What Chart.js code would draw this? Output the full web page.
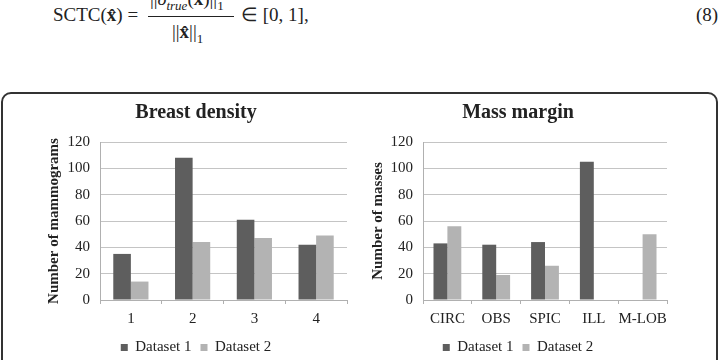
<!DOCTYPE html>
<html>
<head>
<meta charset="utf-8">
<script src="https://cdn.jsdelivr.net/npm/chart.js@4/dist/chart.umd.min.js"></script>
<style>
  body { margin: 0; width: 719px; height: 360px; overflow: hidden; background: #fff; font-family: "Liberation Serif", serif; }
  .eq { position: absolute; font-size: 19px; color: #222; white-space: nowrap; line-height: 1; }
  .frac { position: absolute; left: 148px; top: 16px; width: 86px; border-top: 1px solid #222; }
  #box { position: absolute; left: 1px; top: 92px; width: 713px; height: 300px; border: 2px solid #333; border-radius: 10px; }
  canvas { position: absolute; }
</style>
</head>
<body>
<div class="eq" style="left:53px; top:5px;">SCTC(<b>x̂</b>) =</div>
<div class="eq" style="left:150px; top:-11px;">||<i>δ<sub style="font-size:13px">true</sub></i>(<b>x̂</b>)||<sub style="font-size:13px">1</sub></div>
<div class="frac"></div>
<div class="eq" style="left:172px; top:22px;">||<b>x̂</b>||<sub style="font-size:13px">1</sub></div>
<div class="eq" style="left:241px; top:5px;">∈ [0, 1],</div>
<div class="eq" style="left:696px; top:5px;">(8)</div>
<div id="box"></div>
<canvas id="c1" width="360" height="270" style="left:0px; top:95px;"></canvas>
<canvas id="c2" width="359" height="270" style="left:360px; top:95px;"></canvas>
<script>
const densityLabels = ['1', '2', '3', '4'];
const densityD1 = [35, 108, 61, 42];
const densityD2 = [14, 44, 47, 49];

const marginLabels = ['CIRC', 'OBS', 'SPIC', 'ILL', 'M-LOB'];
const marginD1 = [43, 42, 44, 105, null];
const marginD2 = [56, 19, 26, null, 50];

const seriesNames = ['Dataset 1', 'Dataset 2'];
const dark = '#5e5e5e';
const light = '#b3b3b3';

Chart.defaults.font.family = '"Liberation Serif", "Times New Roman", serif';
Chart.defaults.color = '#222';

function makeChart(id, title, yTitle, labels, d1, d2, padLeft, yWidth, padRight) {
    new Chart(document.getElementById(id), {
        type: 'bar',
        data: {
            labels: labels,
            datasets: [
                { label: seriesNames[0], data: d1, backgroundColor: dark, barPercentage: 1, categoryPercentage: 0.57 },
                { label: seriesNames[1], data: d2, backgroundColor: light, barPercentage: 1, categoryPercentage: 0.57 }
            ]
        },
        options: {
            responsive: false,
            animation: false,
            layout: { padding: { left: padLeft, right: padRight, top: 0, bottom: 0 } },
            plugins: {
                title: { display: true, text: title, font: { size: 20, weight: 'bold' }, padding: { top: 6, bottom: 17 } },
                legend: {
                    position: 'bottom',
                    labels: { boxWidth: 7, boxHeight: 7, font: { size: 15 }, padding: 9 }
                },
                tooltip: { enabled: false }
            },
            scales: {
                y: {
                    min: 0, max: 120,
                    ticks: { stepSize: 20, font: { size: 15 }, padding: 10 },
                    grid: { color: '#c4c4c4', drawTicks: false },
                    border: { color: '#b0b0b0' },
                    title: { display: true, text: yTitle, font: { size: 15, weight: 'bold' }, padding: { top: 0, bottom: 4 } },
                    afterFit: function(s) { s.width = yWidth; }
                },
                x: {
                    ticks: { font: { size: 15 }, padding: 6, maxRotation: 0, autoSkip: false },
                    grid: { drawOnChartArea: false, drawTicks: true, tickLength: 4, color: '#b0b0b0', offset: true },
                    border: { color: '#b0b0b0' },
                    afterFit: function(s) { s.height -= 3; }
                }
            }
        }
    });
}

makeChart('c1', 'Breast density', 'Number of mammograms', densityLabels, densityD1, densityD2, 45, 55, 13);
makeChart('c2', 'Mass margin', 'Number of masses', marginLabels, marginD1, marginD2, 9, 54, 52);
</script>
</body>
</html>
